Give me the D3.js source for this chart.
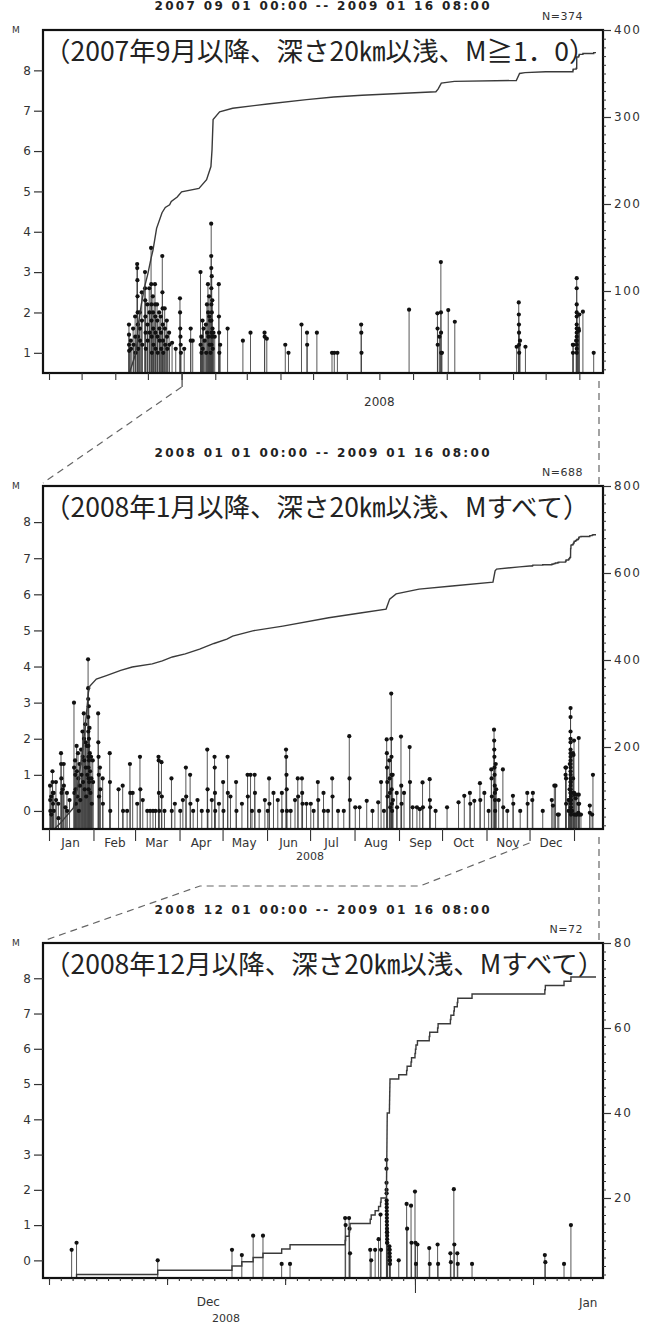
<!DOCTYPE html>
<html>
<head>
<meta charset="utf-8">
<script src="https://cdn.jsdelivr.net/npm/d3@7"></script>
<style>
  body { margin: 0; background: #fff; }
  svg { display: block; }
</style>
</head>
<body>
<svg id="chart" width="647" height="1326"></svg>
<script>
// ---------------------------------------------------------------
// Event catalogue: [origin time, magnitude]
// ---------------------------------------------------------------

// Sep–Dec 2007, M >= 1.0 only
const quakes2007 = [
  ["2007-11-13 14:00",1.7],["2007-11-13 15:00",1.45],["2007-11-13 16:00",1.2],["2007-11-13 18:00",1.05],
  ["2007-11-15 08:00",1.3],["2007-11-15 12:00",1.1],
  ["2007-11-17 10:00",1.6],["2007-11-17 20:00",1.2],
  ["2007-11-19 06:00",1.9],["2007-11-19 09:00",1.4],["2007-11-19 15:00",1.0],
  ["2007-11-21 03:00",3.2],["2007-11-21 05:00",3.1],["2007-11-21 08:00",2.8],["2007-11-21 11:00",2.4],
  ["2007-11-21 14:00",2.0],["2007-11-21 18:00",1.7],["2007-11-21 21:00",1.4],["2007-11-22 01:00",1.1],
  ["2007-11-23 12:00",2.0],["2007-11-23 16:00",1.6],["2007-11-23 20:00",1.3],
  ["2007-11-25 09:00",2.5],["2007-11-25 13:00",1.8],["2007-11-25 20:00",1.2],
  ["2007-11-28 08:00",3.0],["2007-11-28 10:00",2.6],["2007-11-28 13:00",2.3],["2007-11-28 17:00",1.9],
  ["2007-11-28 21:00",1.5],["2007-11-29 02:00",1.1],
  ["2007-11-30 10:00",2.2],["2007-11-30 15:00",1.7],["2007-11-30 20:00",1.3],
  ["2007-12-02 05:00",2.6],["2007-12-02 10:00",2.0],["2007-12-02 16:00",1.5],
  ["2007-12-03 22:00",3.6],["2007-12-04 01:00",2.7],["2007-12-04 04:00",2.2],["2007-12-04 08:00",1.8],
  ["2007-12-04 12:00",1.4],["2007-12-04 16:00",1.0],
  ["2007-12-05 14:00",2.4],["2007-12-05 18:00",2.0],["2007-12-05 22:00",1.6],["2007-12-06 03:00",1.2],
  ["2007-12-07 12:00",2.7],["2007-12-07 15:00",2.2],["2007-12-07 19:00",1.9],["2007-12-07 23:00",1.5],["2007-12-08 04:00",1.1],
  ["2007-12-09 10:00",2.2],["2007-12-09 14:00",1.8],["2007-12-09 19:00",1.4],["2007-12-10 01:00",1.0],
  ["2007-12-11 08:00",2.0],["2007-12-11 13:00",1.6],["2007-12-11 18:00",1.3],
  ["2007-12-12 20:00",1.9],["2007-12-13 02:00",1.5],["2007-12-13 07:00",1.1],
  ["2007-12-14 06:00",3.4],["2007-12-14 09:00",2.5],["2007-12-14 13:00",2.1],["2007-12-14 17:00",1.7],
  ["2007-12-14 21:00",1.3],["2007-12-15 02:00",1.0],
  ["2007-12-16 11:00",2.1],["2007-12-16 16:00",1.6],["2007-12-16 22:00",1.2],
  ["2007-12-18 09:00",1.8],["2007-12-18 14:00",1.4],["2007-12-18 20:00",1.1],
  ["2007-12-20 12:00",1.5],["2007-12-20 18:00",1.2],
  ["2007-12-23 06:00",1.25],
  ["2007-12-26 15:00",1.1],
  ["2007-12-30 12:00",2.35],["2007-12-30 15:00",2.0],["2007-12-30 19:00",1.6],["2007-12-30 23:00",1.4],
  ["2007-12-31 04:00",1.2],["2007-12-31 09:00",1.0]
];

// Jan–Nov 2008, all magnitudes
const quakes2008 = [
  ["2008-01-01 18:00",0.7],["2008-01-01 20:00",0.3],["2008-01-01 23:00",0.0],
  ["2008-01-02 12:00",0.4],["2008-01-02 15:00",-0.1],
  ["2008-01-03 10:00",1.1],["2008-01-03 12:00",0.8],["2008-01-03 15:00",0.5],["2008-01-03 19:00",0.2],
  ["2008-01-04 06:00",0.5],["2008-01-04 09:00",0.0],
  ["2008-01-05 20:00",0.8],["2008-01-05 22:00",0.3],
  ["2008-01-07 12:00",0.2],["2008-01-07 14:00",-0.2],
  ["2008-01-09 09:00",1.6],["2008-01-09 11:00",1.3],["2008-01-09 14:00",0.9],["2008-01-09 18:00",0.5],
  ["2008-01-10 12:00",0.6],
  ["2008-01-11 06:00",1.3],["2008-01-11 09:00",0.7],
  ["2008-01-12 10:00",0.1],
  ["2008-01-13 12:00",0.5],["2008-01-13 15:00",0.0],
  ["2008-01-15 08:00",0.3],
  ["2008-01-18 10:00",3.0],["2008-01-18 12:00",1.2],["2008-01-18 16:00",0.5],
  ["2008-01-19 04:00",1.4],["2008-01-19 08:00",1.0],["2008-01-19 13:00",0.6],["2008-01-19 18:00",0.2],
  ["2008-01-20 06:00",1.8],["2008-01-20 11:00",1.1],["2008-01-20 17:00",0.4],
  ["2008-01-21 05:00",1.6],["2008-01-21 12:00",0.9],["2008-01-21 19:00",0.0],
  ["2008-01-22 07:00",1.3],["2008-01-22 14:00",0.7],["2008-01-22 20:00",0.3],
  ["2008-01-23 09:00",1.7],["2008-01-23 16:00",1.0],
  ["2008-01-24 08:00",2.2],["2008-01-24 13:00",1.5],["2008-01-24 19:00",0.8],
  ["2008-01-25 06:00",2.7],["2008-01-25 10:00",2.0],["2008-01-25 15:00",1.4],["2008-01-25 21:00",0.6],
  ["2008-01-26 07:00",2.4],["2008-01-26 12:00",1.9],["2008-01-26 17:00",1.2],["2008-01-26 22:00",0.4],
  ["2008-01-27 08:00",1.8],["2008-01-27 16:00",1.0],
  ["2008-01-28 06:00",4.2],["2008-01-28 07:00",3.4],["2008-01-28 08:00",3.1],["2008-01-28 09:00",2.6],
  ["2008-01-28 10:00",2.2],["2008-01-28 11:00",1.8],["2008-01-28 12:00",1.5],["2008-01-28 13:00",1.2],
  ["2008-01-28 14:00",0.9],["2008-01-28 15:00",0.6],
  ["2008-01-28 18:00",2.9],["2008-01-28 20:00",2.0],["2008-01-28 22:00",1.4],["2008-01-28 23:00",0.8],
  ["2008-01-29 06:00",2.3],["2008-01-29 11:00",1.6],["2008-01-29 16:00",1.1],["2008-01-29 21:00",0.5],
  ["2008-01-30 08:00",1.5],["2008-01-30 14:00",0.9],["2008-01-30 20:00",0.2],
  ["2008-01-31 12:00",1.4],["2008-01-31 18:00",0.8],
  ["2008-02-04 06:00",2.7],["2008-02-04 09:00",1.9],["2008-02-04 13:00",1.5],["2008-02-04 18:00",1.0],["2008-02-04 22:00",0.4],
  ["2008-02-05 12:00",1.2],["2008-02-05 18:00",0.6],
  ["2008-02-07 10:00",0.9],["2008-02-07 14:00",0.2],
  ["2008-02-12 08:00",1.6],["2008-02-12 12:00",0.8],["2008-02-12 17:00",0.0],
  ["2008-02-18 12:00",0.6],
  ["2008-02-21 09:00",0.7],["2008-02-21 15:00",0.0],
  ["2008-02-24 11:00",0.0],
  ["2008-02-26 10:00",1.3],["2008-02-26 15:00",0.5],
  ["2008-02-28 08:00",0.5],
  ["2008-03-02 12:00",0.2],
  ["2008-03-04 10:00",1.5],["2008-03-04 16:00",0.6],
  ["2008-03-06 09:00",0.3],
  ["2008-03-09 12:00",0.0],["2008-03-11 12:00",0.0],["2008-03-13 12:00",0.0],["2008-03-15 06:00",0.0],
  ["2008-03-17 08:00",1.5],["2008-03-17 11:00",1.4],["2008-03-17 15:00",0.5],["2008-03-17 20:00",0.0],
  ["2008-03-19 10:00",1.35],["2008-03-19 16:00",0.4],
  ["2008-03-21 12:00",0.0],
  ["2008-03-26 09:00",0.9],["2008-03-26 14:00",0.0],
  ["2008-03-28 18:00",0.2],
  ["2008-04-01 12:00",0.0],
  ["2008-04-03 08:00",0.3],
  ["2008-04-05 10:00",1.2],["2008-04-05 15:00",0.4],
  ["2008-04-08 09:00",1.0],["2008-04-08 14:00",0.2],
  ["2008-04-10 12:00",0.0],
  ["2008-04-13 12:00",0.3],
  ["2008-04-16 12:00",0.0],
  ["2008-04-20 08:00",1.7],["2008-04-20 13:00",0.6],["2008-04-20 18:00",0.0],
  ["2008-04-23 12:00",0.3],
  ["2008-04-25 10:00",1.5],["2008-04-25 13:00",1.2],["2008-04-25 17:00",0.5],["2008-04-25 21:00",0.0],
  ["2008-04-28 12:00",0.2],
  ["2008-05-01 09:00",0.8],["2008-05-01 15:00",0.0],
  ["2008-05-04 12:00",1.5],["2008-05-04 16:00",0.5],
  ["2008-05-06 12:00",0.4],
  ["2008-05-10 10:00",0.8],["2008-05-10 16:00",0.0],
  ["2008-05-14 12:00",0.2],
  ["2008-05-18 10:00",1.0],["2008-05-18 15:00",0.4],
  ["2008-05-20 12:00",1.0],["2008-05-21 12:00",0.0],
  ["2008-05-23 09:00",1.0],["2008-05-23 14:00",0.5],
  ["2008-05-26 12:00",0.0],
  ["2008-05-30 12:00",0.3],
  ["2008-06-01 12:00",0.0],
  ["2008-06-02 10:00",0.9],["2008-06-02 16:00",0.2],
  ["2008-06-05 12:00",0.5],
  ["2008-06-08 12:00",0.3],
  ["2008-06-11 08:00",0.5],["2008-06-11 14:00",0.0],
  ["2008-06-14 06:00",1.7],["2008-06-14 09:00",1.5],["2008-06-14 13:00",1.0],["2008-06-14 17:00",0.6],["2008-06-14 21:00",0.0],
  ["2008-06-17 12:00",0.0],
  ["2008-06-20 12:00",0.3],
  ["2008-06-22 10:00",0.9],["2008-06-22 16:00",0.4],
  ["2008-06-25 08:00",0.9],["2008-06-25 12:00",0.5],["2008-06-25 18:00",0.2],
  ["2008-06-28 12:00",0.2],
  ["2008-07-01 12:00",0.2],
  ["2008-07-03 12:00",0.0],
  ["2008-07-06 10:00",0.8],["2008-07-06 16:00",0.3],
  ["2008-07-10 09:00",0.5],["2008-07-10 15:00",0.0],
  ["2008-07-13 12:00",0.0],
  ["2008-07-16 10:00",0.9],["2008-07-16 16:00",0.4],
  ["2008-07-20 12:00",0.0],
  ["2008-07-24 12:00",0.0],
  ["2008-07-28 08:00",2.07],["2008-07-28 12:00",0.9],["2008-07-28 18:00",0.3],
  ["2008-08-01 12:00",0.1],
  ["2008-08-04 12:00",0.1],
  ["2008-08-09 12:00",0.28],
  ["2008-08-13 12:00",0.0],
  ["2008-08-17 12:00",0.24],
  ["2008-08-19 12:00",0.8],
  ["2008-08-21 12:00",0.0],
  ["2008-08-23 10:00",1.98],["2008-08-23 13:00",1.6],["2008-08-23 16:00",1.2],["2008-08-23 20:00",0.8],["2008-08-23 23:00",0.4],
  ["2008-08-25 06:00",1.4],["2008-08-25 11:00",0.9],["2008-08-25 16:00",0.5],["2008-08-25 21:00",0.1],
  ["2008-08-26 14:00",3.25],["2008-08-26 16:00",2.0],["2008-08-26 18:00",1.5],["2008-08-26 20:00",1.0],
  ["2008-08-26 22:00",0.6],["2008-08-27 01:00",0.2],["2008-08-27 04:00",0.0],
  ["2008-08-27 14:00",1.0],["2008-08-27 19:00",0.3],
  ["2008-08-30 10:00",0.5],["2008-08-30 16:00",0.1],
  ["2008-09-02 09:00",2.06],["2008-09-02 14:00",0.7],["2008-09-02 19:00",0.2],
  ["2008-09-04 12:00",0.5],
  ["2008-09-08 10:00",1.77],["2008-09-08 16:00",0.8],
  ["2008-09-10 12:00",0.1],
  ["2008-09-13 12:00",0.1],
  ["2008-09-15 12:00",0.05],
  ["2008-09-17 10:00",0.79],["2008-09-17 16:00",0.1],
  ["2008-09-22 09:00",0.88],["2008-09-22 13:00",0.3],["2008-09-22 18:00",0.1],
  ["2008-09-26 12:00",0.0],
  ["2008-10-04 12:00",0.1],
  ["2008-10-12 12:00",0.24],
  ["2008-10-16 12:00",0.42],
  ["2008-10-20 10:00",0.5],["2008-10-20 16:00",0.2],
  ["2008-10-23 12:00",0.28],
  ["2008-10-27 10:00",0.77],["2008-10-27 16:00",0.3],
  ["2008-10-30 12:00",0.5],
  ["2008-11-02 12:00",0.0],
  ["2008-11-04 08:00",1.15],["2008-11-04 13:00",0.9],["2008-11-04 18:00",0.4],
  ["2008-11-06 06:00",2.25],["2008-11-06 08:00",1.95],["2008-11-06 10:00",1.7],["2008-11-06 12:00",1.5],
  ["2008-11-06 14:00",1.2],["2008-11-06 16:00",1.0],["2008-11-06 18:00",0.7],["2008-11-06 20:00",0.5],
  ["2008-11-06 22:00",0.3],["2008-11-07 01:00",0.0],
  ["2008-11-07 10:00",1.3],["2008-11-07 18:00",0.6],
  ["2008-11-09 12:00",0.3],
  ["2008-11-12 10:00",1.15],["2008-11-12 16:00",0.1],
  ["2008-11-15 12:00",0.0],
  ["2008-11-19 10:00",0.42],["2008-11-19 16:00",0.2],
  ["2008-11-24 12:00",0.0],
  ["2008-11-29 10:00",0.5],["2008-11-29 16:00",0.2]
];

// 1 Dec 2008 – 16 Jan 2009, all magnitudes (complete list)
const quakesRecent = [
  ["2008-12-02 22:00",0.3],["2008-12-03 08:00",0.5],
  ["2008-12-10 05:00",0.0],
  ["2008-12-16 12:00",0.3],
  ["2008-12-17 08:00",0.15],
  ["2008-12-18 07:00",0.7],
  ["2008-12-19 03:00",0.7],
  ["2008-12-20 17:00",-0.1],
  ["2008-12-21 10:00",-0.1],
  ["2008-12-26 02:00",1.2],["2008-12-26 03:00",1.0],
  ["2008-12-26 10:00",1.2],["2008-12-26 11:00",0.9],["2008-12-26 12:00",0.2],
  ["2008-12-28 05:00",0.3],["2008-12-28 07:00",0.0],["2008-12-28 15:00",0.3],["2008-12-28 22:00",0.6],
  ["2008-12-29 02:00",1.3],["2008-12-29 03:00",0.3],
  ["2008-12-29 14:00",2.85],["2008-12-29 14:05",2.6],["2008-12-29 14:10",2.2],["2008-12-29 14:15",2.0],
  ["2008-12-29 14:20",1.9],["2008-12-29 14:25",1.7],["2008-12-29 14:30",1.6],["2008-12-29 14:35",1.5],
  ["2008-12-29 14:40",1.4],["2008-12-29 14:45",1.3],["2008-12-29 14:50",1.2],["2008-12-29 14:55",1.1],
  ["2008-12-29 15:00",1.0],["2008-12-29 15:05",0.9],["2008-12-29 15:10",0.8],["2008-12-29 15:15",0.8],
  ["2008-12-29 15:20",0.7],["2008-12-29 15:25",0.6],["2008-12-29 15:30",0.5],["2008-12-29 15:35",0.5],
  ["2008-12-29 20:00",0.4],["2008-12-29 20:10",0.3],["2008-12-29 20:20",0.3],["2008-12-29 20:30",0.2],
  ["2008-12-29 20:40",0.1],["2008-12-29 20:50",0.0],["2008-12-29 21:00",0.0],["2008-12-29 21:10",-0.1],
  ["2008-12-30 15:00",0.0],
  ["2008-12-31 07:00",1.6],["2008-12-31 08:00",0.9],
  ["2008-12-31 16:00",1.55],["2008-12-31 17:00",0.5],
  ["2009-01-01 00:00",1.95],["2009-01-01 01:00",0.5],["2009-01-01 02:00",-0.1],
  ["2009-01-01 05:00",0.45],
  ["2009-01-02 05:00",0.35],["2009-01-02 06:00",-0.1],
  ["2009-01-02 22:00",0.45],["2009-01-02 23:00",-0.1],
  ["2009-01-04 00:00",0.2],["2009-01-04 01:00",-0.05],
  ["2009-01-04 07:00",2.02],["2009-01-04 08:00",0.45],
  ["2009-01-04 14:00",0.2],["2009-01-04 15:00",-0.1],
  ["2009-01-05 20:00",-0.1],
  ["2009-01-12 00:00",0.15],["2009-01-12 01:00",-0.05],
  ["2009-01-13 15:00",-0.1],
  ["2009-01-14 05:00",1.0]
];

// Cumulative number of events up to 1 Dec 2008 (M >= 1.0, from Sep 2007)
const cumCountM1 = [
  ["2007-11-13 12:00",0],["2007-11-14 00:00",6],["2007-11-19 00:00",25],["2007-11-21 00:00",40],
  ["2007-11-22 00:00",60],["2007-11-25 00:00",85],["2007-11-28 00:00",105],["2007-12-01 00:00",120],
  ["2007-12-04 00:00",138],["2007-12-05 17:00",147],["2007-12-09 00:00",172],["2007-12-14 00:00",190],
  ["2007-12-17 00:00",196],["2007-12-21 00:00",199],["2007-12-22 12:00",203],["2007-12-28 00:00",208],
  ["2008-01-01 00:00",214],["2008-01-17 00:00",218],["2008-01-24 00:00",228],["2008-01-28 00:00",243],
  ["2008-01-29 00:00",262],["2008-01-30 00:00",297],["2008-02-05 00:00",306],["2008-02-17 00:00",310],
  ["2008-03-20 00:00",315],["2008-04-25 00:00",320],["2008-05-20 00:00",323],["2008-06-15 00:00",325],
  ["2008-08-22 00:00",329],["2008-08-24 00:00",332],["2008-08-27 00:00",339],["2008-09-08 00:00",341],
  ["2008-11-04 00:00",342],["2008-11-07 00:00",350],["2008-11-12 00:00",351],["2008-12-01 00:00",352]
];

// Cumulative number of events up to 1 Dec 2008 (all magnitudes, from Jan 2008)
const cumCountAll = [
  ["2008-01-01 00:00",0],["2008-01-09 00:00",25],["2008-01-18 00:00",60],["2008-01-21 00:00",110],
  ["2008-01-24 00:00",180],["2008-01-26 00:00",240],["2008-01-27 12:00",290],["2008-01-28 12:00",326],
  ["2008-01-29 12:00",340],["2008-02-03 00:00",356],
  ["2008-02-10 00:00",364],["2008-02-20 00:00",376],["2008-02-28 00:00",384],["2008-03-13 00:00",391],
  ["2008-03-20 00:00",398],["2008-03-27 00:00",407],["2008-04-05 00:00",414],["2008-04-15 00:00",425],
  ["2008-04-25 00:00",438],["2008-05-04 00:00",448],["2008-05-08 00:00",455],["2008-05-22 00:00",467],
  ["2008-06-12 00:00",478],["2008-07-14 00:00",497],["2008-08-05 00:00",508],["2008-08-23 00:00",517],
  ["2008-08-25 12:00",540],["2008-08-30 00:00",552],["2008-09-15 00:00",563],["2008-10-08 00:00",570],
  ["2008-11-05 12:00",579],["2008-11-07 00:00",605],["2008-11-08 00:00",609],["2008-11-24 00:00",614],
  ["2008-12-01 00:00",616]
];

const endTime = "2009-01-16 08:00";
const magTicksM1 = [1, 2, 3, 4, 5, 6, 7, 8];
const magTicksAll = [0, 1, 2, 3, 4, 5, 6, 7, 8];
const countTicks1 = [100, 200, 300, 400];
const countTicks2 = [200, 400, 600, 800];
const countTicks3 = [20, 40, 60, 80];
const monthNames = ["Jan","Feb","Mar","Apr","May","Jun","Jul","Aug","Sep","Oct","Nov","Dec"];

// ---------------------------------------------------------------
const parse = d3.timeParse("%Y-%m-%d %H:%M");
const toEvents = rows => rows.map(([t, m]) => ({ t: parse(t), m }));
const toCounts = rows => rows.map(([t, n]) => ({ t: parse(t), n }));
const ev2007 = toEvents(quakes2007);
const ev2008 = toEvents(quakes2008);
const evRecent = toEvents(quakesRecent).sort((a, b) => a.t - b.t);
const tEnd = parse(endTime);

// stepwise cumulative count built from an event list, starting at `base`
function stepsFrom(events, base) {
  const pts = [];
  events.forEach((e, i) => {
    pts.push({ t: e.t, n: base + i });
    pts.push({ t: e.t, n: base + i + 1 });
  });
  return pts;
}

const recentM1 = evRecent.filter(e => e.m >= 1.0);
const cum1 = toCounts(cumCountM1);
const cum2 = toCounts(cumCountAll);
const base1 = cum1[cum1.length - 1].n;
const base2 = cum2[cum2.length - 1].n;

const curve1 = cum1.concat(stepsFrom(recentM1, base1), [{ t: tEnd, n: base1 + recentM1.length }]);
const curve2 = cum2.concat(stepsFrom(evRecent, base2), [{ t: tEnd, n: base2 + evRecent.length }]);
const curve3 = stepsFrom(evRecent, 0).concat([{ t: tEnd, n: evRecent.length }]);

// layout
const W = 647;
const boxL = 43, boxR = 603, plotL = 49, plotR = 596;
const FONT = "'DejaVu Sans', sans-serif";
const CJK = "'Noto Sans CJK JP', 'Noto Sans CJK SC', sans-serif";

const panels = [
  {
    id: "p1", start: "2007-09-01 00:00", top: 30, bottom: 373, magMin: 0.5,
    magTicks: magTicksM1, countMax: 400, countTicks: countTicks1,
    events: ev2007.concat(ev2008, evRecent).filter(e => e.m >= 1.0),
    curve: curve1, total: base1 + recentM1.length,
    title: "2007 09 01 00:00 -- 2009 01 16 08:00",
    note: "（2007年9月以降、深さ20㎞以浅、M≧1．0）"
  },
  {
    id: "p2", start: "2008-01-01 00:00", top: 486, bottom: 829, magMin: -0.5,
    magTicks: magTicksAll, countMax: 800, countTicks: countTicks2,
    events: ev2008.concat(evRecent),
    curve: curve2, total: base2 + evRecent.length,
    title: "2008 01 01 00:00 -- 2009 01 16 08:00",
    note: "（2008年1月以降、深さ20㎞以浅、Mすべて）"
  },
  {
    id: "p3", start: "2008-12-01 00:00", top: 943, bottom: 1278, magMin: -0.5,
    magTicks: magTicksAll, countMax: 80, countTicks: countTicks3,
    events: evRecent,
    curve: curve3, total: evRecent.length,
    title: "2008 12 01 00:00 -- 2009 01 16 08:00",
    note: "（2008年12月以降、深さ20㎞以浅、Mすべて）"
  }
];

const svg = d3.select("#chart");
svg.append("rect").attr("width", W).attr("height", 1326).attr("fill", "#fff");

panels.forEach(p => {
  p.x = d3.scaleTime().domain([parse(p.start), tEnd]).range([plotL, plotR]);
  p.y = d3.scaleLinear().domain([p.magMin, 9]).range([p.bottom, p.top]);
  p.c = d3.scaleLinear().domain([0, p.countMax]).range([p.bottom + 5, p.top]);

  const g = svg.append("g");

  svg.append("clipPath").attr("id", "clip-" + p.id)
    .append("rect").attr("x", boxL).attr("y", p.top).attr("width", boxR - boxL).attr("height", p.bottom - p.top);

  const plot = g.append("g").attr("clip-path", `url(#clip-${p.id})`);

  // magnitude stems
  plot.append("g").selectAll("line").data(p.events).join("line")
    .attr("x1", d => p.x(d.t)).attr("x2", d => p.x(d.t))
    .attr("y1", p.bottom).attr("y2", d => p.y(d.m))
    .attr("stroke", "#444").attr("stroke-width", 0.9);
  plot.append("g").selectAll("circle").data(p.events).join("circle")
    .attr("cx", d => p.x(d.t)).attr("cy", d => p.y(d.m)).attr("r", 2.1)
    .attr("fill", "#111");

  // cumulative count
  plot.append("path").datum(p.curve)
    .attr("fill", "none").attr("stroke", "#3a3a3a").attr("stroke-width", 1.4)
    .attr("d", d3.line().x(d => p.x(d.t)).y(d => p.c(d.n)));

  // frame
  g.append("rect").attr("x", boxL).attr("y", p.top)
    .attr("width", boxR - boxL).attr("height", p.bottom - p.top)
    .attr("fill", "none").attr("stroke", "#111").attr("stroke-width", 2.2);

  // magnitude axis
  const ax = g.append("g").attr("transform", `translate(${boxL},0)`)
    .call(d3.axisLeft(p.y).tickValues(p.magTicks).tickSize(9).tickPadding(3).tickFormat(d3.format("d")));
  ax.select(".domain").remove();
  ax.selectAll("line").attr("stroke", "#333").attr("stroke-width", 1.2);
  ax.selectAll("text").attr("font-family", FONT).attr("font-size", 12).attr("fill", "#333");

  // count axis
  const cx = g.append("g").attr("transform", `translate(${boxR},0)`)
    .call(d3.axisRight(p.c).tickValues(p.countTicks).tickSize(8).tickPadding(3));
  cx.select(".domain").remove();
  cx.selectAll("line").attr("stroke", "#333").attr("stroke-width", 1.2);
  cx.selectAll("text").attr("font-family", FONT).attr("font-size", 12).attr("fill", "#333")
    .attr("letter-spacing", 1.5);
  const minorStep = p.countTicks[0] / 10;
  const cm = g.append("g").attr("transform", `translate(${boxR},0)`)
    .call(d3.axisRight(p.c).tickValues(d3.range(minorStep, p.countMax, minorStep)).tickSize(3).tickFormat(""));
  cm.select(".domain").remove();
  cm.selectAll("line").attr("stroke", "#333");

  // labels above the frame
  g.append("text").attr("x", 16).attr("y", p.top + 3).attr("text-anchor", "middle")
    .attr("font-family", FONT).attr("font-size", 9).attr("fill", "#333").text("M");
  g.append("text").attr("x", boxR - 20).attr("y", p.top - 10).attr("text-anchor", "end")
    .attr("font-family", FONT).attr("font-size", 11).attr("fill", "#333").attr("letter-spacing", 0.5)
    .text("N=" + p.total);
  g.append("text").attr("x", 322).attr("y", Math.max(p.top - 29, 10)).attr("text-anchor", "middle")
    .attr("font-family", FONT).attr("font-size", 12).attr("font-weight", "bold").attr("fill", "#222")
    .attr("textLength", 335).attr("lengthAdjust", "spacing")
    .text(p.title);
  g.append("text").attr("x", boxL + 1).attr("y", p.top + 31)
    .attr("font-family", CJK).attr("font-size", 26.5).attr("fill", "#222")
    .text(p.note);
});

function timeAxis(p, values, size) {
  const a = svg.append("g").attr("transform", `translate(0,${p.bottom})`)
    .call(d3.axisBottom(p.x).tickValues(values).tickSize(size).tickFormat(""));
  a.select(".domain").remove();
  a.selectAll("line").attr("stroke", "#333").attr("stroke-width", 1.1);
  return a;
}
function label(x, y, txt, size) {
  svg.append("text").attr("x", x).attr("y", y).attr("text-anchor", "middle")
    .attr("font-family", FONT).attr("font-size", size || 12).attr("fill", "#333").text(txt);
}

// panel 1: monthly ticks, long tick at the start of 2008
const [P1, P2, P3] = panels;
const jan2008 = parse("2008-01-01 00:00");
timeAxis(P1, d3.timeMonth.range(parse(P1.start), tEnd), 7);
timeAxis(P1, [jan2008], 14);
label(P1.x(parse("2008-07-01 00:00")), P1.bottom + 33, "2008");

// panel 2: month ticks with month names in between
const months2 = d3.timeMonth.range(parse(P2.start), tEnd);
timeAxis(P2, months2, 12);
months2.slice(0, 12).forEach((m, i) => {
  const mid = new Date(m.getFullYear(), m.getMonth(), 16);
  label(P2.x(mid), P2.bottom + 18, monthNames[i]);
});
label(P2.x(parse("2008-07-01 00:00")), P2.bottom + 31, "2008", 11);

// panel 3: daily ticks, every 10 days, long tick at new year
const days3 = d3.timeDay.range(parse(P3.start), tEnd);
timeAxis(P3, days3, 3);
timeAxis(P3, days3.filter(d => [1, 11, 21].includes(d.getDate())), 7);
timeAxis(P3, [parse("2009-01-01 00:00")], 15);
label(P3.x(parse("2008-12-14 12:00")), P3.bottom + 28, "Dec");
label(P3.x(parse("2008-12-16 00:00")), P3.bottom + 44, "2008", 11);
label(P3.x(parse("2009-01-15 16:00")), P3.bottom + 29, "Jan");

// dashed connectors between the panels
const dash = svg.append("g").attr("fill", "none").attr("stroke", "#666")
  .attr("stroke-width", 1.2).attr("stroke-dasharray", "7,5");
const xEnd = P1.x(tEnd) + 3;
dash.append("path").attr("d", d3.line()([[P1.x(jan2008), P1.bottom + 14], [boxL, P2.top - 3]]));
dash.append("path").attr("d", d3.line()([[xEnd, P1.bottom + 8], [xEnd, P2.top]]));
dash.append("path").attr("d", d3.line()([[xEnd, P2.bottom + 8], [xEnd, P3.top]]));
const bracketY = (P2.bottom + P3.top) / 2;
dash.append("path").attr("d", d3.line()([
  [P2.x(parse("2008-12-01 00:00")), P2.bottom + 14],
  [420, bracketY], [200, bracketY], [boxL, P3.top - 2]
]));
</script>
</body>
</html>
